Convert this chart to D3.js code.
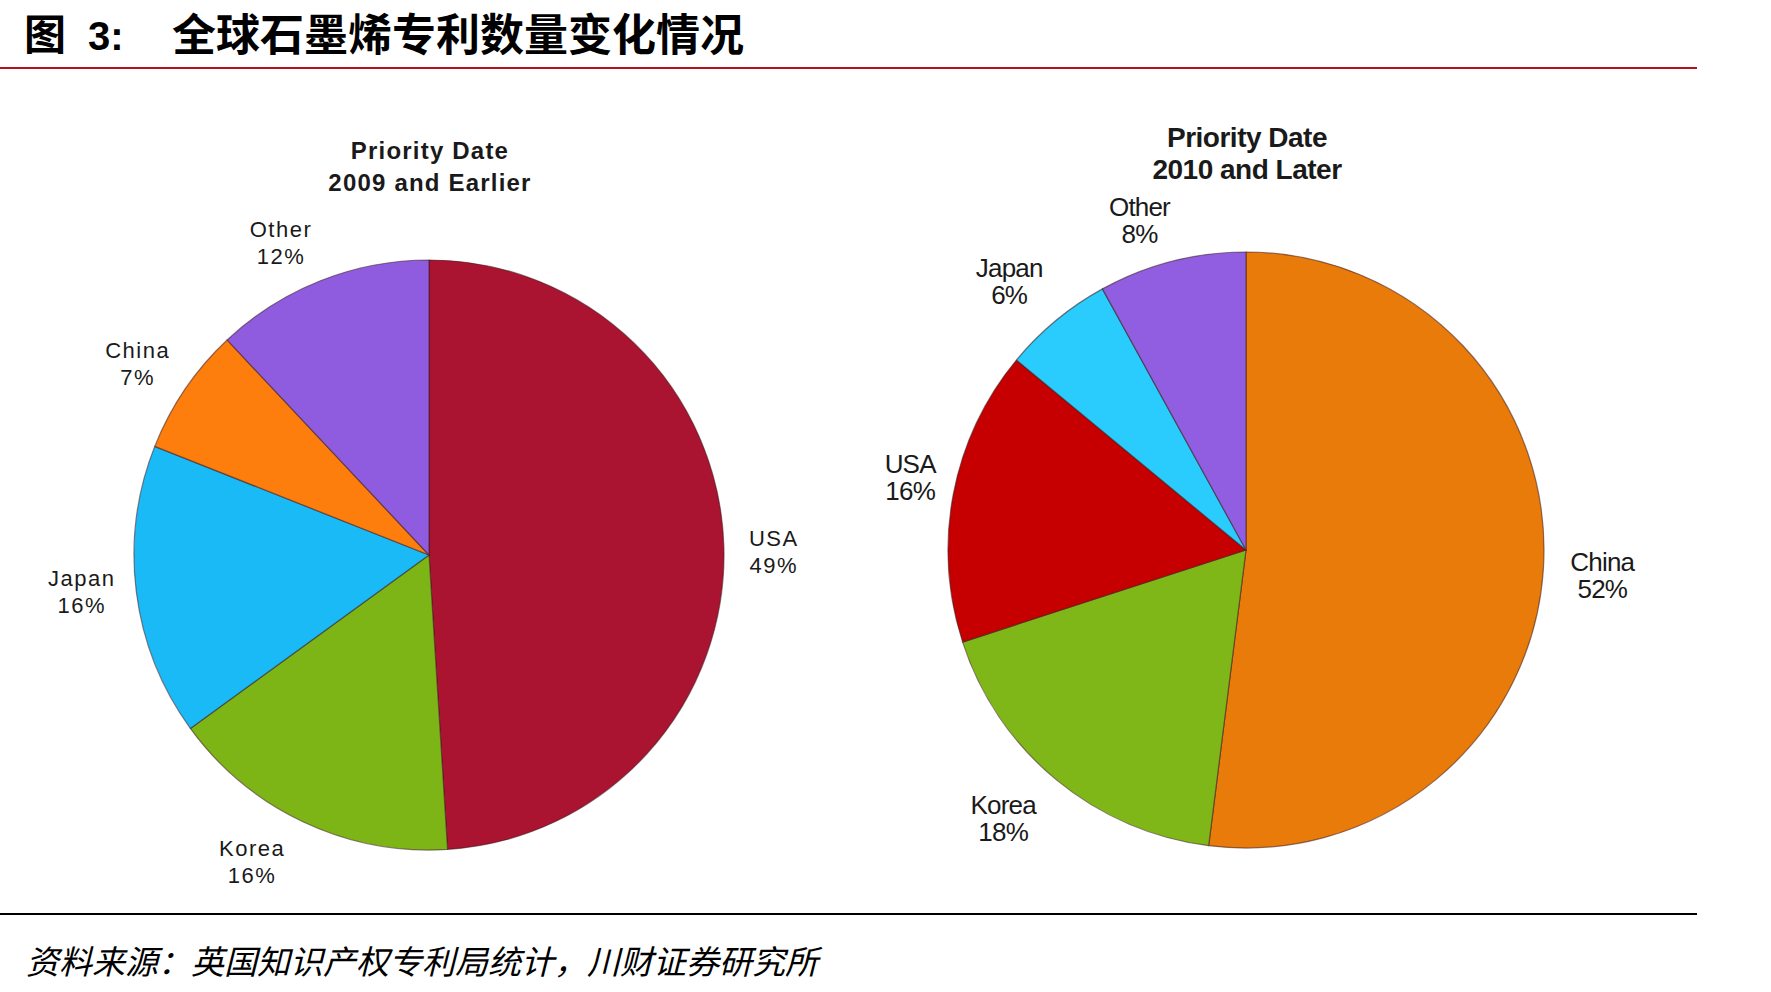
<!DOCTYPE html>
<html><head><meta charset="utf-8">
<script src="https://cdn.jsdelivr.net/npm/d3@7"></script>
<style>
html,body{margin:0;padding:0;background:#fff;}
svg{display:block;}
</style></head>
<body>
<script>
// ---- data ----
const leftTitle = ["Priority Date", "2009 and Earlier"];
const leftCategories = ["USA", "Korea", "Japan", "China", "Other"];
const leftValues = [49, 16, 16, 7, 12];
const rightTitle = ["Priority Date", "2010 and Later"];
const rightCategories = ["China", "Korea", "USA", "Japan", "Other"];
const rightValues = [52, 18, 16, 6, 8];
const figureLabel = "图";
const figureNumber = "3:";
const figureTitleCN = "全球石墨烯专利数量变化情况";
const sourceText = "资料来源：英国知识产权专利局统计，川财证券研究所";

// ---- styles / layout ----
const W = 1771, H = 992;
const leftColors = {USA:"#A3132F", Korea:"#78AD15", Japan:"#19B2EC", China:"#F2780C", Other:"#8A58D6"};
const rightColors = {China:"#DE760A", Korea:"#7AAF17", USA:"#BE0000", Japan:"#27C3F1", Other:"#8B5AD8"};
// label nudges (px) applied on top of the outside centroid position
const leftNudge = {USA:[0,8], Korea:[-30,-5], Japan:[-5,-6], China:[-6,3], Other:[-21,9]};
const rightNudge = {China:[9,4], Korea:[-21,0], USA:[6,-7], Japan:[-15,0], Other:[-20,8]};

const svg = d3.select("body").append("svg").attr("width", W).attr("height", H);
const defs = svg.append("defs");

// header
const cnFont = "'Noto Sans CJK SC', sans-serif";
svg.append("text").attr("x", 24).attr("y", 50)
  .attr("font-family", cnFont).attr("font-weight", "bold")
  .attr("font-size", 42).attr("fill", "#000").text(figureLabel);
svg.append("text").attr("x", 88).attr("y", 50)
  .attr("font-family", "'Liberation Sans', Arial, sans-serif").attr("font-weight", "bold")
  .attr("font-size", 40).attr("fill", "#000").text(figureNumber);
svg.append("text").attr("x", 172).attr("y", 51)
  .attr("font-family", cnFont).attr("font-weight", "bold")
  .attr("font-size", 44).attr("fill", "#000").text(figureTitleCN);
svg.append("line").attr("x1", 0).attr("x2", 1697).attr("y1", 68).attr("y2", 68)
  .attr("stroke", "#B8101A").attr("stroke-width", 2);
svg.append("line").attr("x1", 0).attr("x2", 1697).attr("y1", 914).attr("y2", 914)
  .attr("stroke", "#000").attr("stroke-width", 2);
svg.append("text").attr("x", 26).attr("y", 974)
  .attr("font-family", cnFont).attr("font-style", "italic")
  .attr("font-size", 33).attr("fill", "#000").text(sourceText);

function drawPie(cfg) {
  const g = svg.append("g").attr("transform", `translate(${cfg.cx},${cfg.cy})`);
  const pie = d3.pie().sort(null).value(d => d.v);
  const data = pie(cfg.cats.map((c, i) => ({c, v: cfg.vals[i]})));
  const arc = d3.arc().innerRadius(0).outerRadius(cfg.r);
  const labelArc = d3.arc().innerRadius(cfg.r + 50).outerRadius(cfg.r + 50);

  data.forEach((d, i) => {
    const base = d3.color(cfg.colors[d.data.c]);
    const id = `${cfg.id}-g${i}`;
    const lg = defs.append("linearGradient").attr("id", id)
      .attr("gradientUnits", "userSpaceOnUse")
      .attr("x1", cfg.cx - cfg.r * 0.3).attr("y1", cfg.cy - cfg.r)
      .attr("x2", cfg.cx + cfg.r * 0.3).attr("y2", cfg.cy + cfg.r);
    lg.append("stop").attr("offset", "0%").attr("stop-color", base.brighter(0.12));
    lg.append("stop").attr("offset", "55%").attr("stop-color", base);
    lg.append("stop").attr("offset", "100%").attr("stop-color", base.darker(0.3));
  });

  g.selectAll("path.slice").data(data).join("path")
    .attr("class", "slice")
    .attr("d", arc)
    .attr("fill", (d, i) => `url(#${cfg.id}-g${i})`)
    .attr("stroke", "rgba(60,25,30,0.55)")
    .attr("stroke-width", 1.2)
    .attr("stroke-linejoin", "round");

  // labels
  const lab = g.selectAll("text.lab").data(data).join("text")
    .attr("class", "lab")
    .attr("font-family", cfg.font)
    .attr("font-size", cfg.fs)
    .attr("letter-spacing", cfg.ls)
    .attr("fill", "#1a1a1a")
    .attr("text-anchor", "middle");
  lab.each(function(d) {
    const [x0, y0] = labelArc.centroid(d);
    const n = cfg.nudge[d.data.c];
    const x = x0 + n[0], y = y0 + n[1];
    const t = d3.select(this);
    t.append("tspan").attr("x", x).attr("y", y - cfg.lh / 2).attr("dominant-baseline", "central").text(d.data.c);
    t.append("tspan").attr("x", x).attr("y", y + cfg.lh / 2).attr("dominant-baseline", "central").text(d.data.v + "%");
  });

  // title
  const tt = svg.append("text").attr("text-anchor", "middle")
    .attr("font-family", cfg.font).attr("font-weight", "bold")
    .attr("font-size", cfg.tfs).attr("fill", "#1a1a1a").attr("letter-spacing", cfg.tls);
  cfg.title.forEach((s, i) => {
    tt.append("tspan").attr("x", cfg.cx + 1).attr("y", cfg.ty + i * cfg.tlh)
      .attr("dominant-baseline", "central").text(s);
  });
}

drawPie({id:"L", cx:429, cy:555, r:295, cats:leftCategories, vals:leftValues, colors:leftColors,
  nudge:leftNudge, font:"'Liberation Sans', Arial, sans-serif", fs:22, ls:1.5, lh:27,
  title:leftTitle, tfs:24, tls:1.2, ty:150, tlh:32});
drawPie({id:"R", cx:1246, cy:550, r:298, cats:rightCategories, vals:rightValues, colors:rightColors,
  nudge:rightNudge, font:"'Liberation Sans', Arial, sans-serif", fs:26, ls:-0.8, lh:27,
  title:rightTitle, tfs:28, tls:-0.5, ty:137, tlh:32});
</script>
</body></html>
